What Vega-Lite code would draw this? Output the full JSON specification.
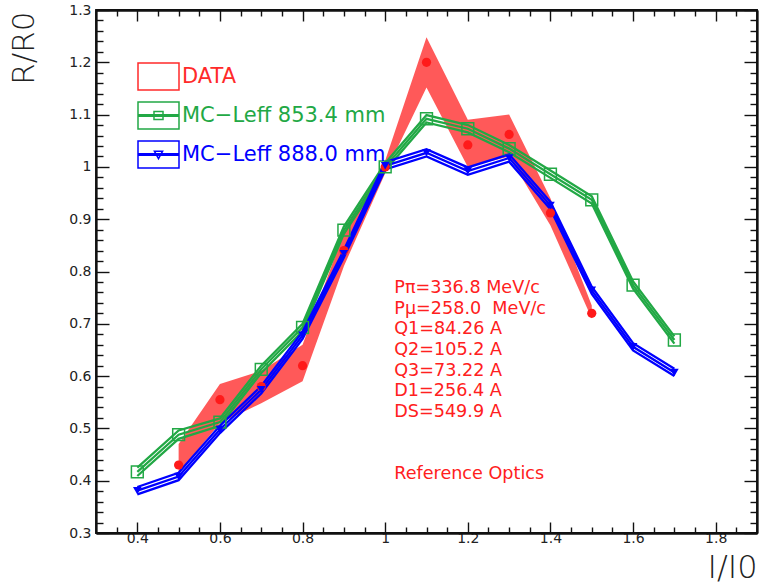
{
  "$schema": "https://vega.github.io/schema/vega-lite/v6.json",
  "width": 661,
  "height": 523,
  "autosize": {"type": "none"},
  "padding": {"left": 96, "top": 10, "right": 3, "bottom": 52},
  "background": "white",
  "config": {
    "view": {"stroke": "#111", "strokeWidth": 1.8},
    "axis": {"domainColor": "#111", "domainWidth": 1.8, "tickColor": "#111", "tickWidth": 1.4, "grid": false, "labelFont": "DejaVu Sans", "labelFontSize": 14, "labelColor": "#222", "titleFont": "DejaVu Sans", "titleColor": "#222", "titleFontWeight": 200},
    "legend": {"labelFont": "DejaVu Sans"},
    "text": {"font": "DejaVu Sans"}
  },
  "datasets": {
    "pts": [
      {"s": "DATA", "x": 0.5, "y": 0.43, "lo": 0.415, "hi": 0.47},
      {"s": "DATA", "x": 0.6, "y": 0.555, "lo": 0.51, "hi": 0.585},
      {"s": "DATA", "x": 0.7, "y": 0.58, "lo": 0.548, "hi": 0.61},
      {"s": "DATA", "x": 0.8, "y": 0.62, "lo": 0.59, "hi": 0.66},
      {"s": "DATA", "x": 0.9, "y": 0.84, "lo": 0.81, "hi": 0.875},
      {"s": "DATA", "x": 1.0, "y": 1.0, "lo": 0.988, "hi": 1.012},
      {"s": "DATA", "x": 1.1, "y": 1.2, "lo": 1.152, "hi": 1.248},
      {"s": "DATA", "x": 1.2, "y": 1.042, "lo": 1.0, "hi": 1.09},
      {"s": "DATA", "x": 1.3, "y": 1.062, "lo": 1.02, "hi": 1.1},
      {"s": "DATA", "x": 1.4, "y": 0.912, "lo": 0.888, "hi": 0.94},
      {"s": "DATA", "x": 1.5, "y": 0.72, "lo": 0.71, "hi": 0.735},
      {"s": "MC−Leff 853.4 mm", "x": 0.4, "y": 0.417, "lo": 0.409, "hi": 0.425},
      {"s": "MC−Leff 853.4 mm", "x": 0.5, "y": 0.488, "lo": 0.48, "hi": 0.496},
      {"s": "MC−Leff 853.4 mm", "x": 0.6, "y": 0.512, "lo": 0.505, "hi": 0.519},
      {"s": "MC−Leff 853.4 mm", "x": 0.7, "y": 0.613, "lo": 0.606, "hi": 0.62},
      {"s": "MC−Leff 853.4 mm", "x": 0.8, "y": 0.693, "lo": 0.686, "hi": 0.7},
      {"s": "MC−Leff 853.4 mm", "x": 0.9, "y": 0.879, "lo": 0.872, "hi": 0.886},
      {"s": "MC−Leff 853.4 mm", "x": 1.0, "y": 1.0, "lo": 0.993, "hi": 1.007},
      {"s": "MC−Leff 853.4 mm", "x": 1.1, "y": 1.092, "lo": 1.085, "hi": 1.099},
      {"s": "MC−Leff 853.4 mm", "x": 1.2, "y": 1.073, "lo": 1.066, "hi": 1.08},
      {"s": "MC−Leff 853.4 mm", "x": 1.3, "y": 1.035, "lo": 1.028, "hi": 1.042},
      {"s": "MC−Leff 853.4 mm", "x": 1.4, "y": 0.986, "lo": 0.979, "hi": 0.993},
      {"s": "MC−Leff 853.4 mm", "x": 1.5, "y": 0.937, "lo": 0.93, "hi": 0.944},
      {"s": "MC−Leff 853.4 mm", "x": 1.6, "y": 0.774, "lo": 0.767, "hi": 0.781},
      {"s": "MC−Leff 853.4 mm", "x": 1.7, "y": 0.669, "lo": 0.662, "hi": 0.676},
      {"s": "MC−Leff 888.0 mm", "x": 0.4, "y": 0.381, "lo": 0.374, "hi": 0.388},
      {"s": "MC−Leff 888.0 mm", "x": 0.5, "y": 0.408, "lo": 0.401, "hi": 0.415},
      {"s": "MC−Leff 888.0 mm", "x": 0.6, "y": 0.498, "lo": 0.491, "hi": 0.505},
      {"s": "MC−Leff 888.0 mm", "x": 0.7, "y": 0.574, "lo": 0.567, "hi": 0.581},
      {"s": "MC−Leff 888.0 mm", "x": 0.8, "y": 0.678, "lo": 0.671, "hi": 0.685},
      {"s": "MC−Leff 888.0 mm", "x": 0.9, "y": 0.834, "lo": 0.827, "hi": 0.841},
      {"s": "MC−Leff 888.0 mm", "x": 1.0, "y": 1.002, "lo": 0.995, "hi": 1.009},
      {"s": "MC−Leff 888.0 mm", "x": 1.1, "y": 1.027, "lo": 1.02, "hi": 1.034},
      {"s": "MC−Leff 888.0 mm", "x": 1.2, "y": 0.992, "lo": 0.985, "hi": 0.999},
      {"s": "MC−Leff 888.0 mm", "x": 1.3, "y": 1.017, "lo": 1.01, "hi": 1.024},
      {"s": "MC−Leff 888.0 mm", "x": 1.4, "y": 0.926, "lo": 0.919, "hi": 0.933},
      {"s": "MC−Leff 888.0 mm", "x": 1.5, "y": 0.764, "lo": 0.757, "hi": 0.771},
      {"s": "MC−Leff 888.0 mm", "x": 1.6, "y": 0.656, "lo": 0.649, "hi": 0.663},
      {"s": "MC−Leff 888.0 mm", "x": 1.7, "y": 0.607, "lo": 0.6, "hi": 0.614}
    ],
    "notes": [
      {"t": "Reference Optics"}
    ]
  },
  "resolve": {"axis": {"x": "independent", "y": "independent"}},
  "layer": [
    {
      "data": {"name": "pts"},
      "mark": {"type": "point", "opacity": 0},
      "encoding": {
        "x": {"field": "x", "type": "quantitative", "scale": {"domain": [0.3, 1.9], "nice": false, "zero": false},
          "axis": {"orient": "bottom", "values": [0.4, 0.6, 0.8, 1, 1.2, 1.4, 1.6, 1.8], "tickSize": -11, "format": ".1~f", "labelPadding": 9,
            "title": "I/I0", "titleFontSize": 32, "titleX": 661, "titleY": 44, "titleAlign": "right", "titleBaseline": "alphabetic", "titleAnchor": "end"}},
        "y": {"field": "y", "type": "quantitative", "scale": {"domain": [0.3, 1.3], "nice": false, "zero": false},
          "axis": {"orient": "left", "values": [0.3, 0.4, 0.5, 0.6, 0.7, 0.8, 0.9, 1, 1.1, 1.2, 1.3], "tickSize": -13, "format": ".1~f", "labelPadding": 18,
            "title": "R/R0", "titleFontSize": 31, "titleAngle": -90, "titleX": -72, "titleY": 1, "titleAlign": "right", "titleBaseline": "middle", "titleAnchor": "end"}}
      }
    },
    {
      "data": {"name": "pts"},
      "mark": {"type": "point", "opacity": 0},
      "encoding": {
        "x": {"field": "x", "type": "quantitative", "scale": {"domain": [0.3, 1.9], "nice": false, "zero": false},
          "axis": {"orient": "bottom", "values": [0.35, 0.45, 0.5, 0.55, 0.65, 0.7, 0.75, 0.85, 0.9, 0.95, 1.05, 1.1, 1.15, 1.25, 1.3, 1.35, 1.45, 1.5, 1.55, 1.65, 1.7, 1.75, 1.85], "tickSize": -6, "labels": false, "title": null}},
        "y": {"field": "y", "type": "quantitative", "scale": {"domain": [0.3, 1.3], "nice": false, "zero": false},
          "axis": {"orient": "left", "values": [0.32, 0.34, 0.36, 0.38, 0.42, 0.44, 0.46, 0.48, 0.52, 0.54, 0.56, 0.58, 0.62, 0.64, 0.66, 0.68, 0.72, 0.74, 0.76, 0.78, 0.82, 0.84, 0.86, 0.88, 0.92, 0.94, 0.96, 0.98, 1.02, 1.04, 1.06, 1.08, 1.12, 1.14, 1.16, 1.18, 1.22, 1.24, 1.26, 1.28], "tickSize": -7, "labels": false, "title": null}}
      }
    },
    {
      "data": {"name": "pts"},
      "mark": {"type": "point", "opacity": 0},
      "encoding": {
        "x": {"field": "x", "type": "quantitative", "scale": {"domain": [0.3, 1.9], "nice": false, "zero": false},
          "axis": {"orient": "top", "values": [0.4, 0.6, 0.8, 1, 1.2, 1.4, 1.6, 1.8], "tickSize": -11, "labels": false, "title": null}},
        "y": {"field": "y", "type": "quantitative", "scale": {"domain": [0.3, 1.3], "nice": false, "zero": false},
          "axis": {"orient": "right", "values": [0.3, 0.4, 0.5, 0.6, 0.7, 0.8, 0.9, 1, 1.1, 1.2, 1.3], "tickSize": -13, "labels": false, "title": null}}
      }
    },
    {
      "data": {"name": "pts"},
      "mark": {"type": "point", "opacity": 0},
      "encoding": {
        "x": {"field": "x", "type": "quantitative", "scale": {"domain": [0.3, 1.9], "nice": false, "zero": false},
          "axis": {"orient": "top", "values": [0.35, 0.45, 0.5, 0.55, 0.65, 0.7, 0.75, 0.85, 0.9, 0.95, 1.05, 1.1, 1.15, 1.25, 1.3, 1.35, 1.45, 1.5, 1.55, 1.65, 1.7, 1.75, 1.85], "tickSize": -6, "labels": false, "title": null}},
        "y": {"field": "y", "type": "quantitative", "scale": {"domain": [0.3, 1.3], "nice": false, "zero": false},
          "axis": {"orient": "right", "values": [0.32, 0.34, 0.36, 0.38, 0.42, 0.44, 0.46, 0.48, 0.52, 0.54, 0.56, 0.58, 0.62, 0.64, 0.66, 0.68, 0.72, 0.74, 0.76, 0.78, 0.82, 0.84, 0.86, 0.88, 0.92, 0.94, 0.96, 0.98, 1.02, 1.04, 1.06, 1.08, 1.12, 1.14, 1.16, 1.18, 1.22, 1.24, 1.26, 1.28], "tickSize": -7, "labels": false, "title": null}}
      }
    },
    {
      "data": {"name": "pts"},
      "transform": [{"filter": "datum.s === 'DATA'"}],
      "mark": {"type": "area", "color": "#ff2222", "opacity": 0.75},
      "encoding": {
        "x": {"field": "x", "type": "quantitative", "scale": {"domain": [0.3, 1.9], "nice": false, "zero": false}, "axis": null},
        "y": {"field": "lo", "type": "quantitative", "scale": {"domain": [0.3, 1.3], "nice": false, "zero": false}, "axis": null},
        "y2": {"field": "hi"}
      }
    },
    {
      "mark": {"type": "rule", "color": "#ff3030", "strokeDash": [4, 3], "strokeWidth": 1.3},
      "encoding": {"x": {"datum": 1, "type": "quantitative", "scale": {"domain": [0.3, 1.9], "nice": false, "zero": false}, "axis": null}}
    },
    {
      "mark": {"type": "rule", "color": "#ff3030", "strokeDash": [7, 4], "strokeWidth": 1.3},
      "encoding": {"y": {"datum": 1, "type": "quantitative", "scale": {"domain": [0.3, 1.3], "nice": false, "zero": false}, "axis": null}}
    },
    {
      "data": {"name": "pts"},
      "transform": [{"filter": "datum.s !== 'DATA'"}],
      "mark": {"type": "line", "strokeWidth": 2.3},
      "encoding": {
        "x": {"field": "x", "type": "quantitative", "scale": {"domain": [0.3, 1.9], "nice": false, "zero": false}, "axis": null},
        "y": {"field": "lo", "type": "quantitative", "scale": {"domain": [0.3, 1.3], "nice": false, "zero": false}, "axis": null},
        "stroke": {"field": "s", "type": "nominal", "scale": {"domain": ["MC−Leff 853.4 mm", "MC−Leff 888.0 mm"], "range": ["#22a845", "#0000ff"]}, "legend": null}
      }
    },
    {
      "data": {"name": "pts"},
      "transform": [{"filter": "datum.s !== 'DATA'"}],
      "mark": {"type": "line", "strokeWidth": 2.3},
      "encoding": {
        "x": {"field": "x", "type": "quantitative", "scale": {"domain": [0.3, 1.9], "nice": false, "zero": false}, "axis": null},
        "y": {"field": "y", "type": "quantitative", "scale": {"domain": [0.3, 1.3], "nice": false, "zero": false}, "axis": null},
        "stroke": {"field": "s", "type": "nominal", "scale": {"domain": ["MC−Leff 853.4 mm", "MC−Leff 888.0 mm"], "range": ["#22a845", "#0000ff"]}, "legend": null}
      }
    },
    {
      "data": {"name": "pts"},
      "transform": [{"filter": "datum.s !== 'DATA'"}],
      "mark": {"type": "line", "strokeWidth": 2.3},
      "encoding": {
        "x": {"field": "x", "type": "quantitative", "scale": {"domain": [0.3, 1.9], "nice": false, "zero": false}, "axis": null},
        "y": {"field": "hi", "type": "quantitative", "scale": {"domain": [0.3, 1.3], "nice": false, "zero": false}, "axis": null},
        "stroke": {"field": "s", "type": "nominal", "scale": {"domain": ["MC−Leff 853.4 mm", "MC−Leff 888.0 mm"], "range": ["#22a845", "#0000ff"]}, "legend": null}
      }
    },
    {
      "data": {"name": "pts"},
      "transform": [{"filter": "datum.s === 'DATA'"}],
      "mark": {"type": "point", "shape": "circle", "filled": true, "size": 85, "color": "#ff1a1a", "opacity": 1},
      "encoding": {
        "x": {"field": "x", "type": "quantitative", "scale": {"domain": [0.3, 1.9], "nice": false, "zero": false}, "axis": null},
        "y": {"field": "y", "type": "quantitative", "scale": {"domain": [0.3, 1.3], "nice": false, "zero": false}, "axis": null}
      }
    },
    {
      "data": {"name": "pts"},
      "transform": [{"filter": "datum.s === 'MC−Leff 853.4 mm'"}],
      "mark": {"type": "point", "shape": "square", "filled": false, "size": 140, "strokeWidth": 1.5, "color": "#22a845", "opacity": 1},
      "encoding": {
        "x": {"field": "x", "type": "quantitative", "scale": {"domain": [0.3, 1.9], "nice": false, "zero": false}, "axis": null},
        "y": {"field": "y", "type": "quantitative", "scale": {"domain": [0.3, 1.3], "nice": false, "zero": false}, "axis": null}
      }
    },
    {
      "data": {"name": "pts"},
      "transform": [{"filter": "datum.s === 'MC−Leff 888.0 mm'"}],
      "mark": {"type": "point", "shape": "triangle-down", "filled": true, "size": 75, "color": "#0000ff", "opacity": 1},
      "encoding": {
        "x": {"field": "x", "type": "quantitative", "scale": {"domain": [0.3, 1.9], "nice": false, "zero": false}, "axis": null},
        "y": {"field": "y", "type": "quantitative", "scale": {"domain": [0.3, 1.3], "nice": false, "zero": false}, "axis": null}
      }
    },
    {
      "data": {"name": "pts"},
      "mark": {"type": "point", "opacity": 0, "filled": false},
      "encoding": {
        "x": {"field": "x", "type": "quantitative", "scale": {"domain": [0.3, 1.9], "nice": false, "zero": false}, "axis": null},
        "y": {"field": "y", "type": "quantitative", "scale": {"domain": [0.3, 1.3], "nice": false, "zero": false}, "axis": null},
        "color": {"field": "s", "type": "nominal", "scale": {"domain": ["DATA", "MC−Leff 853.4 mm", "MC−Leff 888.0 mm"], "range": ["#ff2a2a", "#22a845", "#0000ff"]},
          "legend": {"title": null, "orient": "none", "legendX": 41, "legendY": 45, "padding": 0, "symbolSize": 1681, "symbolStrokeWidth": 1.5, "rowPadding": -4, "labelOffset": 2, "labelFontSize": 21, "labelFont": "DejaVu Sans", "labelLimit": 400,
            "labelColor": {"expr": "datum.value === 'DATA' ? '#ff2a2a' : (datum.value === 'MC−Leff 853.4 mm' ? '#22a845' : '#0000ff')"},
            "encode": {
              "symbols": {"update": {"fill": {"signal": "datum.value === 'DATA' ? 'rgba(255,34,34,0.75)' : 'transparent'"}, "opacity": {"value": 1}}}
            }}},
        "shape": {"field": "s", "type": "nominal", "scale": {"domain": ["DATA", "MC−Leff 853.4 mm", "MC−Leff 888.0 mm"], "range": ["M-1,-0.66H1V0.66H-1Z", "M-1,-0.66H1V0.66H-1Z M-1,-0.04H1V0.04H-1Z M-0.22,-0.2H0.22V0.2H-0.22Z", "M-1,-0.66H1V0.66H-1Z M-1,-0.04H1V0.04H-1Z M-0.2,-0.16L0.2,-0.16L0,0.2Z"]},
          "legend": {"title": null, "orient": "none", "legendX": 41, "legendY": 45, "padding": 0, "symbolSize": 1681, "symbolStrokeWidth": 1.5, "rowPadding": -4, "labelOffset": 2, "labelFontSize": 21, "labelFont": "DejaVu Sans", "labelLimit": 400,
            "labelColor": {"expr": "datum.value === 'DATA' ? '#ff2a2a' : (datum.value === 'MC−Leff 853.4 mm' ? '#22a845' : '#0000ff')"},
            "encode": {
              "symbols": {"update": {"fill": {"signal": "datum.value === 'DATA' ? 'rgba(255,34,34,0.75)' : 'transparent'"}, "opacity": {"value": 1}}}
            }}}
      }
    },
    {
      "data": {"name": "notes"},
      "mark": {"type": "text", "align": "left", "baseline": "middle", "fontSize": 17.6, "lineHeight": 20.6, "color": "#ff2020"},
      "encoding": {
        "x": {"datum": 1.022, "type": "quantitative", "scale": {"domain": [0.3, 1.9], "nice": false, "zero": false}, "axis": null},
        "y": {"datum": 0.768, "type": "quantitative", "scale": {"domain": [0.3, 1.3], "nice": false, "zero": false}, "axis": null},
        "text": {"value": ["Pπ=336.8 MeV/c", "Pμ=258.0\u00a0 MeV/c", "Q1=84.26 A", "Q2=105.2 A", "Q3=73.22 A", "D1=256.4 A", "DS=549.9 A"]}
      }
    },
    {
      "data": {"name": "notes"},
      "mark": {"type": "text", "align": "left", "baseline": "middle", "fontSize": 17.6, "color": "#ff2020"},
      "encoding": {
        "x": {"datum": 1.022, "type": "quantitative", "scale": {"domain": [0.3, 1.9], "nice": false, "zero": false}, "axis": null},
        "y": {"datum": 0.413, "type": "quantitative", "scale": {"domain": [0.3, 1.3], "nice": false, "zero": false}, "axis": null},
        "text": {"field": "t"}
      }
    }
  ]
}
